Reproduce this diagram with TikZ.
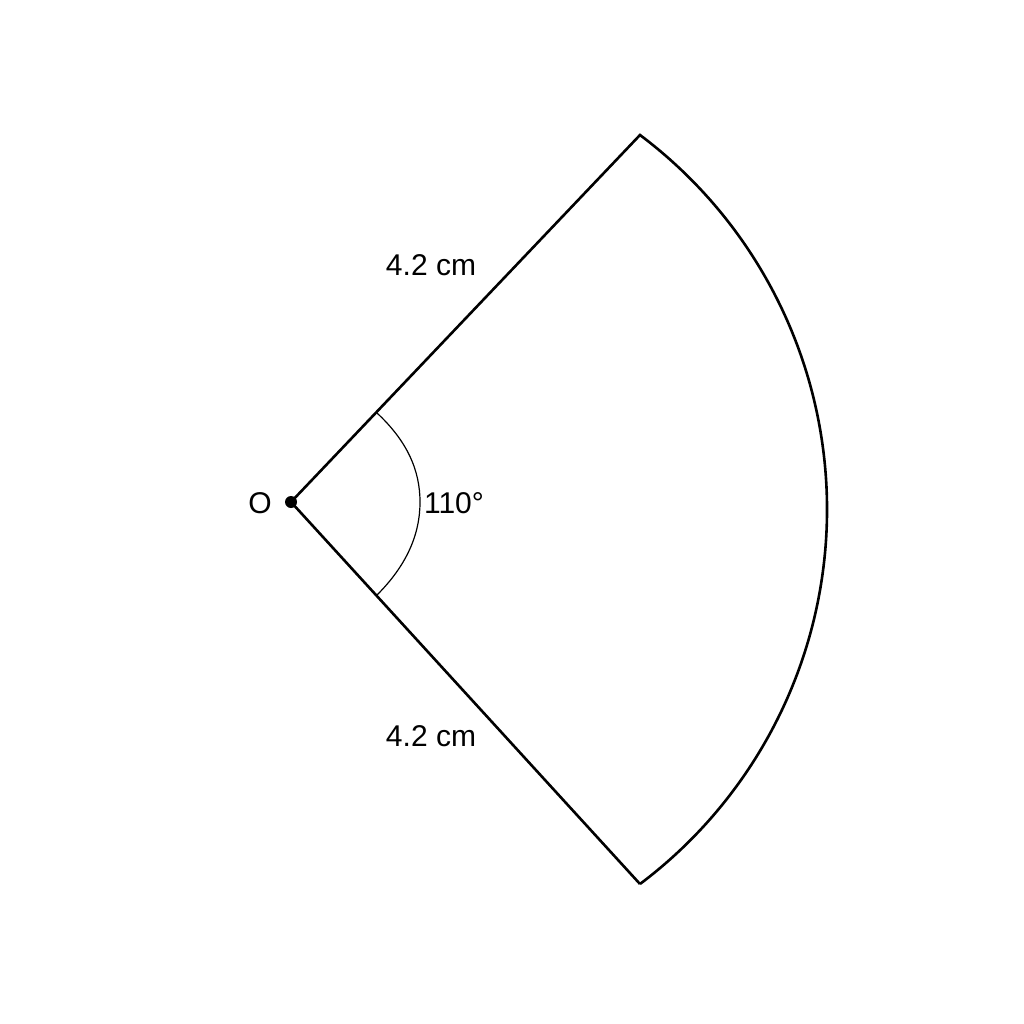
\documentclass[tikz,border=0pt]{standalone}
\usepackage{fontspec}
\setmainfont{Liberation Sans}
\begin{document}
\begin{tikzpicture}[x=1pt,y=-1pt,
  edge/.style={line width=2.6pt,line join=miter},
  anglearc/.style={line width=1.2pt},
  lbl/.style={font=\fontsize{30}{36}\selectfont,inner sep=0pt}]
\fill[white] (0,0) rectangle (1024,1024);
\useasboundingbox (0,0) rectangle (1024,1024);
\coordinate (O) at (291,502);
\coordinate (A) at (640,135);
\coordinate (B) at (640,884);
% sector
\draw[edge] (B) -- (O) -- (A) arc[start angle=-53.07,end angle=53.07,radius=468.5];
% angle mark
\draw[anglearc] (377,413) .. controls (407,441) and (420,470) .. (420,502)
  .. controls (420,534) and (407,565) .. (377,595);
\fill (O) circle[radius=6];
\node[lbl] (lo) at (260,503) {O};
\node[lbl] (lang) at (454,503) {110°};
\node[lbl] (lr1) at (431,265) {4.2 cm};
\node[lbl] (lr2) at (431,736) {4.2 cm};
\end{tikzpicture}
\end{document}
